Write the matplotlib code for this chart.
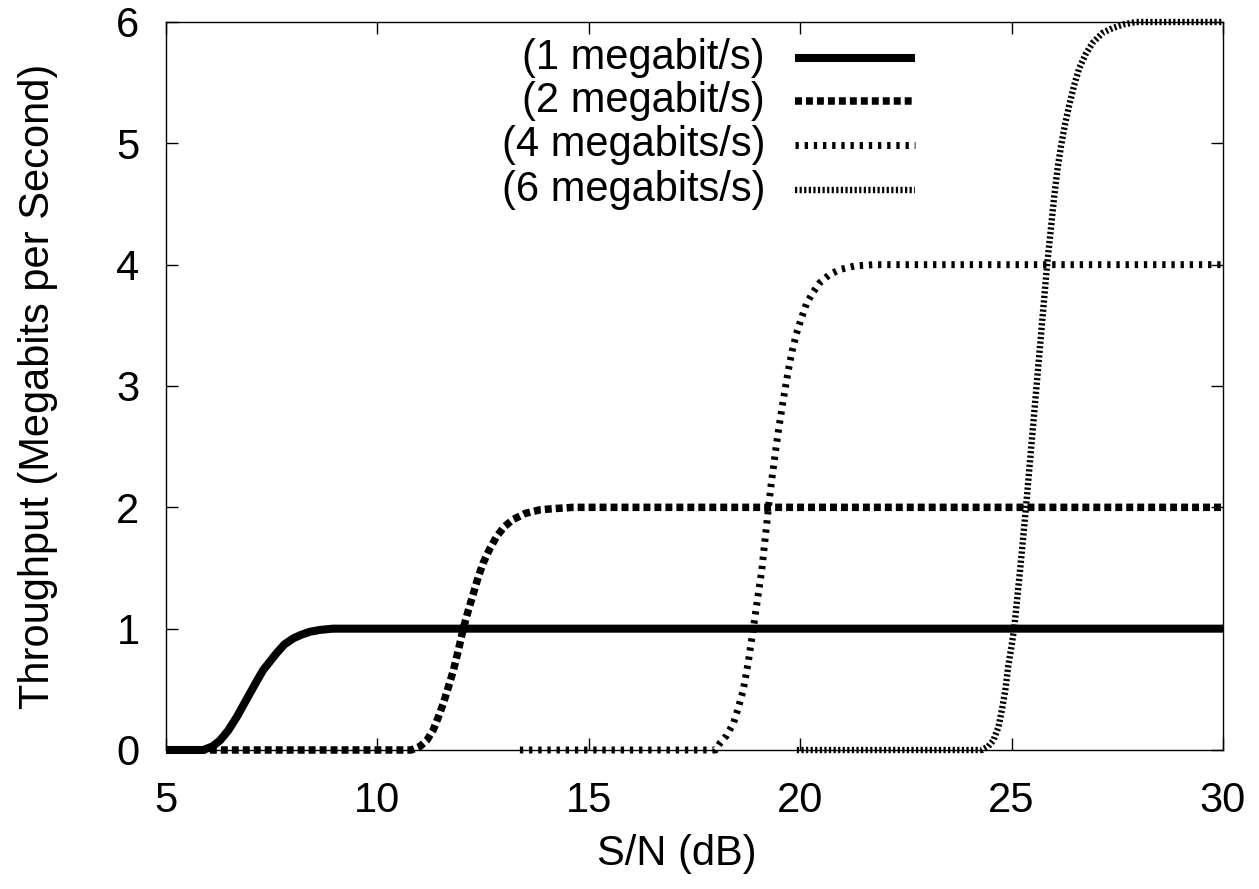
import matplotlib.pyplot as plt
from matplotlib.lines import Line2D

plt.rcParams['font.family'] = ['Liberation Sans', 'DejaVu Sans']
plt.rcParams['font.size'] = 30
plt.rcParams['lines.scale_dashes'] = False

# throughput vs S/N for each link rate
sn_1 = [5.0, 5.5, 5.88, 6.1, 6.28, 6.47, 6.67, 6.83, 6.99, 7.15, 7.30, 7.46, 7.62,
        7.80, 8.01, 8.20, 8.41, 8.65, 8.95, 9.5, 30.0]
tp_1 = [0, 0, 0, 0.03, 0.08, 0.16, 0.27, 0.37, 0.47, 0.57, 0.66, 0.73, 0.80,
        0.87, 0.92, 0.95, 0.975, 0.99, 1.0, 1.0, 1.0]

sn_2 = [5.0, 10.8, 11.01, 11.17, 11.32, 11.44, 11.56, 11.68, 11.80, 11.92, 12.03,
        12.15, 12.27, 12.38, 12.50, 12.66, 12.82, 13.0, 13.21, 13.5, 13.85, 14.2,
        14.63, 30.0]
tp_2 = [0, 0, 0.03, 0.08, 0.165, 0.27, 0.385, 0.52, 0.66, 0.83, 1.0,
        1.15, 1.29, 1.42, 1.54, 1.66, 1.76, 1.84, 1.90, 1.95, 1.98, 1.99,
        2.0, 2.0]

sn_4 = [13.37, 18.0, 18.10, 18.26, 18.42, 18.53, 18.65, 18.77, 18.89, 18.99, 19.09,
        19.17, 19.25, 19.32, 19.40, 19.48, 19.56, 19.64, 19.72, 19.81, 19.91, 20.03,
        20.15, 20.30, 20.46, 20.70, 20.94, 21.3, 21.73, 30.0]
tp_4 = [0, 0, 0.055, 0.12, 0.22, 0.34, 0.49, 0.72, 1.0, 1.24, 1.48,
        1.74, 2.0, 2.21, 2.42, 2.62, 2.80, 2.97, 3.13, 3.29, 3.43, 3.56,
        3.68, 3.77, 3.85, 3.92, 3.96, 3.99, 4.0, 4.0]

sn_6 = [19.92, 24.3, 24.45, 24.57, 24.69, 24.77, 24.85, 24.92, 25.00, 25.06, 25.12,
        25.20, 25.27, 25.34, 25.42, 25.50, 25.58, 25.66, 25.74, 25.84, 25.93, 26.01,
        26.09, 26.17, 26.26, 26.36, 26.48, 26.60, 26.76, 26.92, 27.15, 27.39, 27.65,
        27.94, 30.0]
tp_6 = [0, 0, 0.03, 0.08, 0.19, 0.33, 0.49, 0.69, 0.86, 1.0, 1.21,
        1.48, 1.74, 2.0, 2.32, 2.64, 2.96, 3.28, 3.6, 4.0, 4.3, 4.57,
        4.80, 4.98, 5.15, 5.31, 5.48, 5.62, 5.74, 5.83, 5.91, 5.95, 5.98,
        6.0, 6.0]

labels = ['(1 megabit/s)', '(2 megabit/s)', '(4 megabits/s)', '(6 megabits/s)']

styles = [
    dict(lw=5.8, ls='-'),
    dict(lw=5.4, ls=(0, (5.0, 2.9))),
    dict(lw=5.0, ls=(0, (2.4, 4.2))),
    dict(lw=4.6, ls=(0, (1.6, 1.7))),
]

fig = plt.figure(figsize=(12.59, 8.89), dpi=100)
ax = fig.add_axes([0.13185, 0.15636, 0.83956, 0.81890])

series = [(sn_1, tp_1), (sn_2, tp_2), (sn_4, tp_4), (sn_6, tp_6)]
for (sn, tp), st in zip(series, styles):
    ax.plot(sn, tp, color='black', solid_capstyle='butt', dash_capstyle='butt',
            clip_on=False, **st)

ax.set_xlim(5, 30)
ax.set_ylim(0, 6)
ax.set_xticks([5, 10, 15, 20, 25, 30])
ax.set_yticks([0, 1, 2, 3, 4, 5, 6])
ax.tick_params(direction='in', top=True, right=True, length=8.6, width=1)
ax.tick_params(axis='x', pad=22)
ax.tick_params(axis='y', pad=19)
for s in ax.spines.values():
    s.set_linewidth(1.0)

ax.set_xlabel('S/N (dB)')
ax.set_ylabel('Throughput (Megabits per Second)')
ax.xaxis.set_label_coords(0.4834, -0.115)
ax.yaxis.set_label_coords(-0.102, 0.5)

# key, gnuplot style: text right-aligned, sample to the right
rows = [0.9512, 0.8908, 0.8304, 0.7699]
for lab, y, st in zip(labels, rows, styles):
    ax.text(0.5667, y, lab, ha='right', va='center', transform=ax.transAxes)
    ax.add_line(Line2D([0.595, 0.7086], [y, y], transform=ax.transAxes,
                       color='black', solid_capstyle='butt', dash_capstyle='butt',
                       **st))

fig.savefig('out.png', dpi=100)
